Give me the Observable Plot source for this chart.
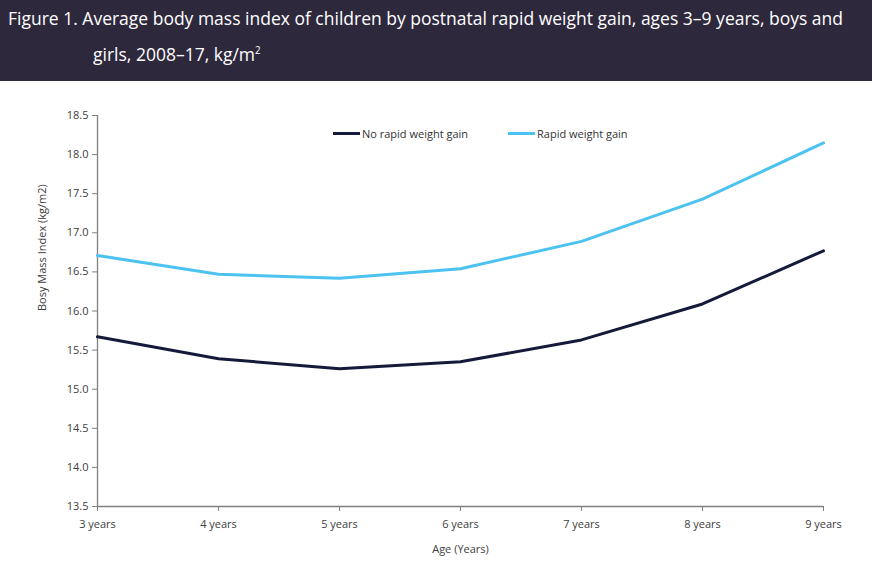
<!DOCTYPE html>
<html><head><meta charset="utf-8">
<script src="https://cdn.jsdelivr.net/npm/d3@7"></script>
<script src="https://cdn.jsdelivr.net/npm/@observablehq/plot@0.6"></script>
<style>
body{margin:0;background:#fff;width:872px;height:572px;overflow:hidden;font-family:"Open Sans",sans-serif;}
#banner{background:#2e283d;height:81px;color:#fff;font-family:"Open Sans",sans-serif;font-size:18px;position:relative}
#banner .l1{position:absolute;left:8px;top:6px;white-space:nowrap;transform-origin:0 0}
#banner .l2{position:absolute;left:93px;top:42px;white-space:nowrap;transform-origin:0 0}
#wrap{position:relative}
#legend{position:absolute;top:45px;left:0;font-size:11px;color:#333;font-family:"Open Sans",sans-serif}
#legend .it{position:absolute;white-space:nowrap;display:flex;align-items:center}
#legend .sw{display:inline-block;width:27px;height:3px;margin-right:2px}
</style></head>
<body>
<div id="banner"><div class="l1">Figure 1. Average body mass index of children by postnatal rapid weight gain, ages 3–9 years, boys and</div><div class="l2">girls, 2008–17, kg/m<sup style="font-size:10px">2</sup></div></div>
<div id="wrap"><div id="legend"></div></div>
<script>
const ages = ["3 years","4 years","5 years","6 years","7 years","8 years","9 years"];
const seriesNames = ["No rapid weight gain","Rapid weight gain"];
const noRapid = [15.67,15.39,15.26,15.35,15.63,16.09,16.77];
const rapid = [16.71,16.47,16.42,16.54,16.89,17.43,18.15];
const yTicks = [13.5,14.0,14.5,15.0,15.5,16.0,16.5,17.0,17.5,18.0,18.5];
const colors = ["#161a3a","#4cc2f1"];

// fit title to its width in the reference
const l1 = document.querySelector("#banner .l1"), l2 = document.querySelector("#banner .l2");
const s = 835 / l1.getBoundingClientRect().width;
l1.style.transform = `scaleX(${s})`; l2.style.transform = `scaleX(${s})`;

const data = [];
ages.forEach((a,i)=>{data.push({age:a,series:seriesNames[0],v:noRapid[i]});data.push({age:a,series:seriesNames[1],v:rapid[i]});});

const chart = Plot.plot({
  width:872, height:491,
  marginLeft:97, marginRight:49, marginTop:34, marginBottom:66,
  style:{fontFamily:"Open Sans, sans-serif",fontSize:"11px",color:"#404040"},
  x:{type:"point",domain:ages,padding:0,label:null},
  y:{domain:[13.5,18.5],label:null},
  color:{domain:seriesNames,range:colors},
  marks:[
    Plot.axisY({ticks:yTicks,tickFormat:d3.format(".1f"),tickSize:5,tickPadding:4,label:null,stroke:"#808080"}),
    Plot.axisX({tickSize:5,tickPadding:9,label:null,stroke:"#808080"}),
    Plot.ruleX([ages[0]],{stroke:"#808080",strokeWidth:1.3}),
    Plot.ruleY([13.5],{stroke:"#808080",strokeWidth:1.3}),
    Plot.line(data,{x:"age",y:"v",stroke:"series",strokeWidth:3,curve:"linear"}),
    Plot.text(["Age (Years)"],{frameAnchor:"bottom",dy:46,fontSize:11,fill:"#404040"}),
    Plot.text(["Bosy Mass Index (kg/m2)"],{frameAnchor:"left",dx:-55,rotate:-90,fontSize:11,fill:"#404040"})
  ]
});
document.getElementById("wrap").appendChild(chart);
const leg = document.getElementById("legend");
const lx=[333,508];
seriesNames.forEach((s,i)=>{
  const d=document.createElement("div");d.className="it";d.style.left=lx[i]+"px";
  d.innerHTML=`<span class="sw" style="background:${colors[i]}"></span>${s}`;
  leg.appendChild(d);
});
</script>
</body></html>
